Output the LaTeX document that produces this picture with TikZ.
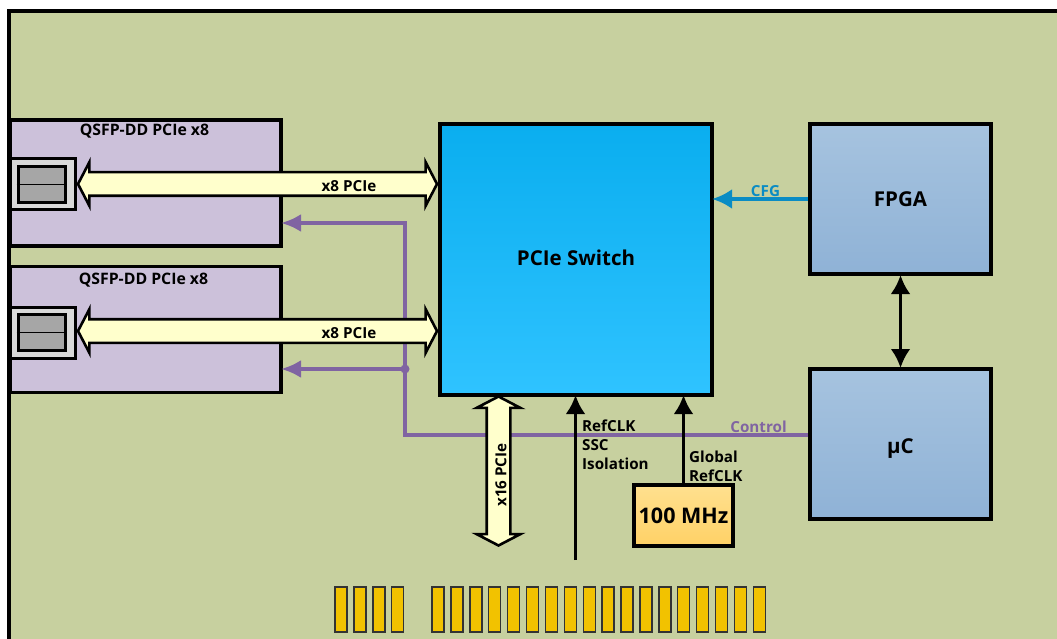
\documentclass[tikz,border=0pt]{standalone}
\usepackage{fontspec}
\setmainfont{Open Sans}
\usepackage{tikz}
\usetikzlibrary{shapes, arrows.meta, positioning, calc}
\definecolor{boardgreen}{RGB}{199, 208, 159}
\definecolor{qsfppurple}{RGB}{204, 193, 218}
\definecolor{ctlpurple}{RGB}{128, 100, 162}
\definecolor{cfgblue}{RGB}{10, 140, 196}
\definecolor{linkyellow}{RGB}{255, 255, 204}
\definecolor{fingergold}{RGB}{242, 194, 0}
\definecolor{swtop}{RGB}{10, 174, 239}
\definecolor{swbot}{RGB}{47, 195, 255}
\definecolor{ctltop}{RGB}{166, 195, 223}
\definecolor{ctlbot}{RGB}{143, 178, 214}
\definecolor{osctop}{RGB}{255, 224, 143}
\definecolor{oscbot}{RGB}{255, 209, 102}

\begin{document}
\begin{tikzpicture}[
  x=1pt, y=-1pt,
  blockbox/.style={draw=black, line width=3.4pt, inner sep=0pt, outer sep=0pt, font=\bfseries\fontsize{20.5}{24}\selectfont},
  qsfpbox/.style={blockbox, fill=qsfppurple, minimum width=271pt, minimum height=126pt},
  swbox/.style={blockbox, top color=swtop, bottom color=swbot, minimum width=272pt, minimum height=271pt},
  ctlbox/.style={blockbox, top color=ctltop, bottom color=ctlbot, minimum width=181pt, minimum height=150pt},
  oscbox/.style={blockbox, top color=osctop, bottom color=oscbot, minimum width=99pt, minimum height=61pt, font=\bfseries\fontsize{21.5}{24}\selectfont},
  cagebox/.style={draw=black, line width=3pt, fill=black!15, minimum width=65pt, minimum height=51pt, inner sep=0pt},
  portbox/.style={draw=black, line width=3pt, fill=black!35, minimum width=47pt, minimum height=36pt, inner sep=0pt},
  linkarrow/.style={double arrow, draw=black, line width=2.6pt, fill=linkyellow, inner sep=0pt, text height=21pt, text depth=0pt, text width=0pt, double arrow head extend=10pt, double arrow tip angle=125},
  finger/.style={draw=black!80, line width=1.4pt, fill=fingergold, minimum width=12pt, minimum height=45pt, inner sep=0pt},
  txt/.style={font=\bfseries\fontsize{15.2}{18}\selectfont, inner sep=0pt},
  ctlline/.style={draw=ctlpurple, line width=3.8pt},
  blackline/.style={draw=black, line width=3.8pt}
]
  \useasboundingbox (0, 0) rectangle (1057, 639);
  \fill[boardgreen] (9, 11) rectangle (1057, 639);
  \draw[black, line width=3.4pt] (9, 639) -- (9, 11) -- (1057, 11);

  \node[qsfpbox] (qsfpa) at (145.5, 183) {};
  \node[qsfpbox] (qsfpb) at (145.5, 329.5) {};
  \node[txt, font=\bfseries\fontsize{15.8}{18}\selectfont] (qsfpatxt) at (144.5, 131.5) {QSFP-DD PCIe x8};
  \node[txt, font=\bfseries\fontsize{15.8}{18}\selectfont] (qsfpbtxt) at (143.5, 280.5) {QSFP-DD PCIe x8};

  \node[swbox, text depth=3pt] (sw) at (576, 259.5) {PCIe Switch};
  \node[ctlbox] (fpga) at (900.5, 199) {FPGA};
  \node[ctlbox, text height=19pt, text depth=0pt] (muc) at (900.5, 444) {µC};
  \node[oscbox] (osc) at (683.5, 515.5) {100 MHz};

  \foreach \y/\n in {184.5/a, 332.5/b} {
    \node[cagebox] (cage\n) at (42.5, \y) {};
    \node[portbox] (port\n) at (41.5, \y) {};
    \draw[black, line width=1.5pt] (port\n.west) -- (port\n.east);
  }

  \coordinate (ctlcorner) at (405, 435);
  \coordinate (ctlup) at (405, 223);
  \coordinate (ctldot) at (405, 369);
  \draw[ctlline, -{Latex[length=20pt, width=18pt]}] ([xshift=-1.7pt]muc.west |- ctlcorner) -- (ctlcorner) -- (ctlup) -- (qsfpa.east |- ctlup);
  \draw[ctlline, -{Latex[length=20pt, width=18pt]}] (ctldot) -- (qsfpb.east |- ctldot);
  \fill[ctlpurple] (ctldot) circle (4.5pt);
  \node[txt, text=ctlpurple] (ctltxt) at (758.5, 427) {Control};

  \node[linkarrow, minimum height=359pt] (linka) at (257.5, 184) {};
  \node[linkarrow, minimum height=359pt] (linkb) at (257.5, 331) {};
  \node[txt] (linkatxt) at (349, 186) {x8 PCIe};
  \node[txt] (linkbtxt) at (349, 333) {x8 PCIe};
  \node[linkarrow, minimum height=149pt, rotate=90] (linkc) at (498.5, 471) {};
  \node[txt, rotate=90] (linkctxt) at (501, 475) {x16 PCIe};

  \draw[cfgblue, line width=4pt, -{Latex[length=20pt, width=20pt]}] ([xshift=-1.7pt]fpga.west) -- (fpga.west -| sw.east);
  \node[txt, text=cfgblue] (cfgtxt) at (765.5, 191.5) {CFG};
  \draw[blackline, shorten <=1pt, shorten >=1pt, {Latex[length=19pt, width=20pt]}-{Latex[length=19pt, width=20pt]}] (fpga.south) -- (muc.north);

  \coordinate (refin) at (575.5, 560);
  \draw[blackline, -{Latex[length=19pt, width=20pt]}] (refin) -- (refin |- sw.south);
  \draw[blackline, -{Latex[length=19pt, width=20pt]}] (osc.north) -- (osc.north |- sw.south);
  \node[txt, align=left, anchor=north west, font=\bfseries\fontsize{15.2}{18.7}\selectfont] (reftxt) at (582, 420) {RefCLK\\SSC\\Isolation};
  \node[txt, align=left, anchor=north west, font=\bfseries\fontsize{15.2}{19}\selectfont] (globtxt) at (689, 451) {Global\\RefCLK};

  \foreach \i [evaluate=\i as \xa using 341+18.9*\i] in {0,...,3} {
    \node[finger] (edge\i) at (\xa, 609.5) {};
  }
  \foreach \i [evaluate=\i as \xa using 438+18.9*\i] in {0,...,17} {
    \node[finger] (pin\i) at (\xa, 609.5) {};
  }
\end{tikzpicture}
\end{document}
